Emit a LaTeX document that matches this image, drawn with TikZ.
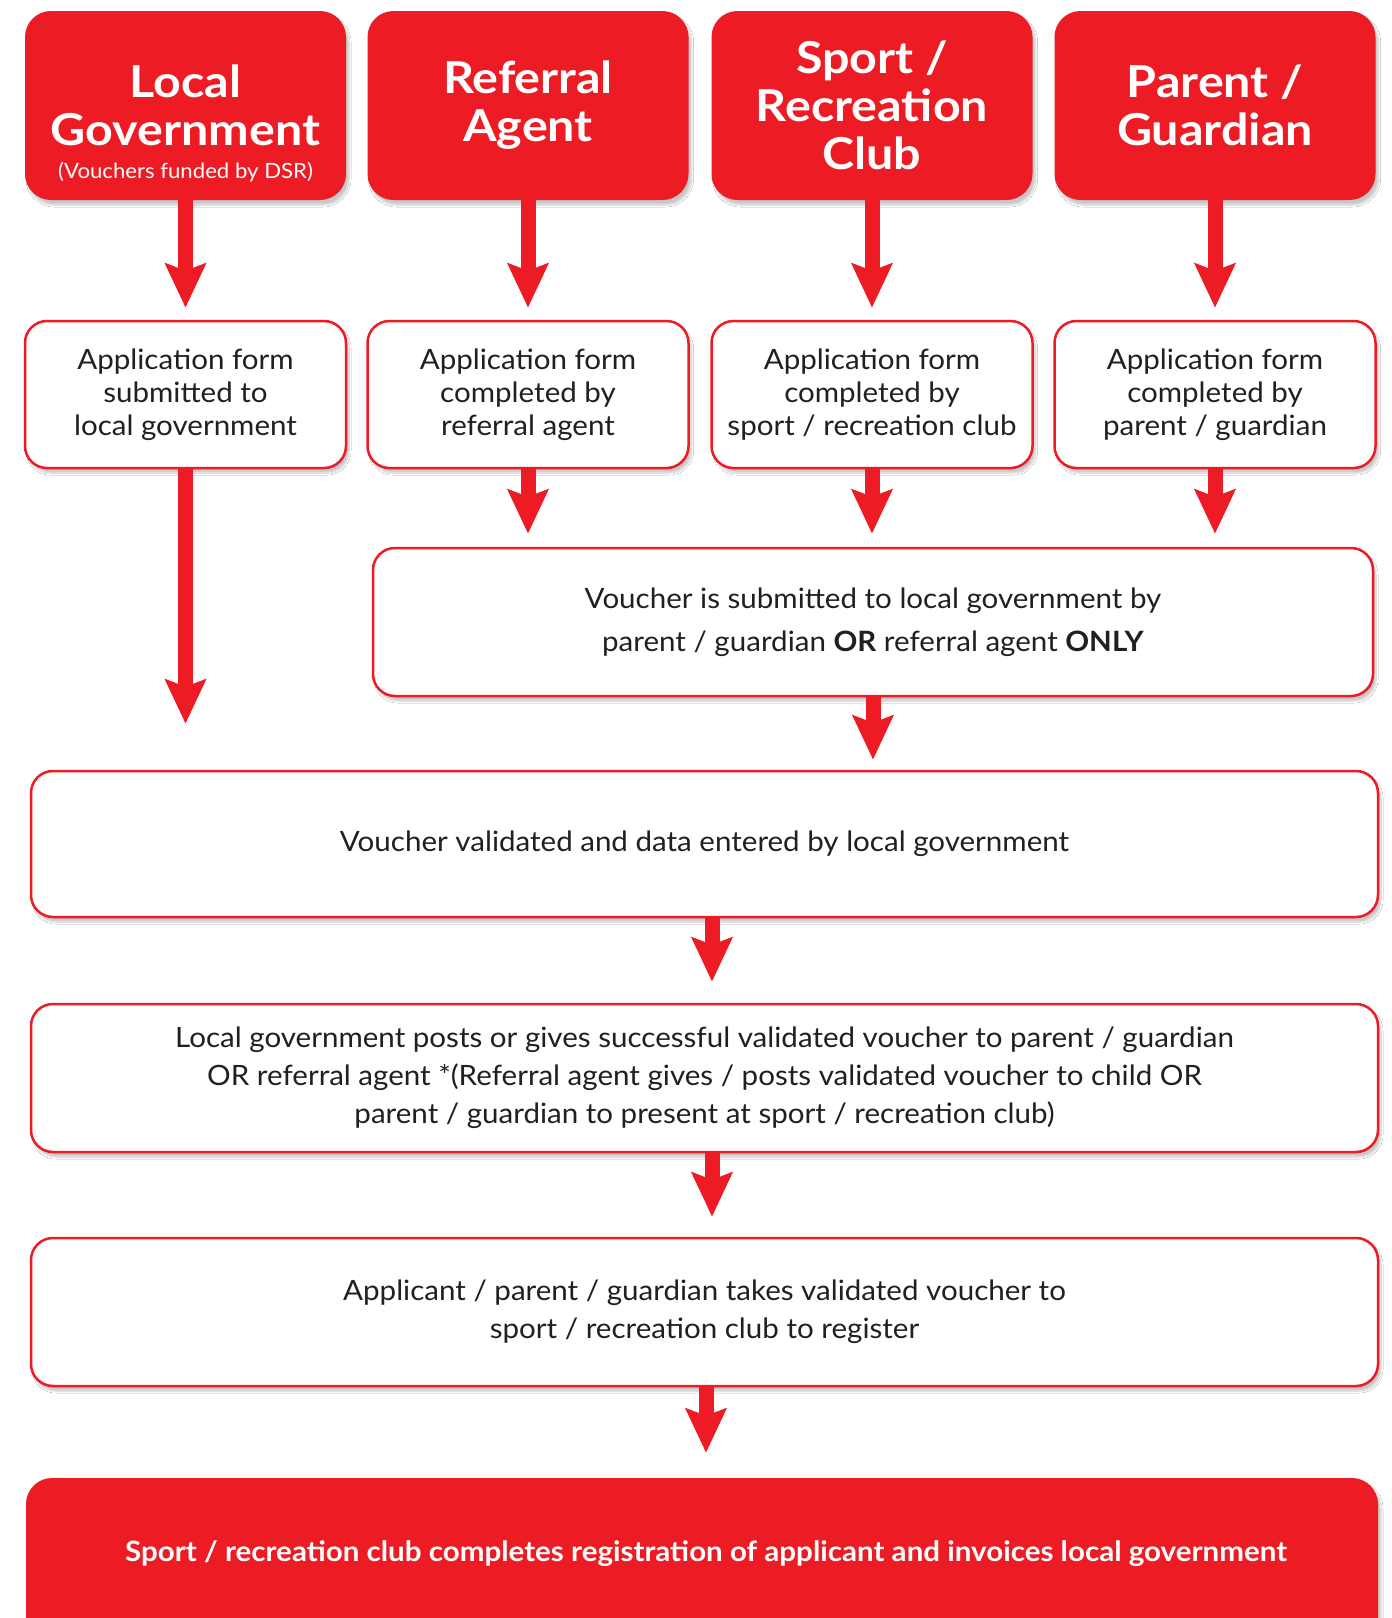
\documentclass[tikz,border=0pt]{standalone}
\usepackage{fontspec}
\setmainfont{Lato}[FakeStretch=1.055]
\newfontfamily\titlefont{Lato}[FakeStretch=1.1]
\usetikzlibrary{arrows.meta,shadows.blur,calc}
\definecolor{dsrred}{HTML}{ED1C24}
\definecolor{txt}{HTML}{231F20}
\begin{document}
\begin{tikzpicture}[x=1pt,y=-1pt,
  shad/.style={blur shadow={shadow xshift=3pt,shadow yshift=-5pt,shadow blur steps=10,shadow opacity=22}},
  head/.style={shad, fill=dsrred, rounded corners=26pt, minimum width=321pt, minimum height=189pt, inner sep=0pt, text=white, align=center, font=\titlefont\bfseries\fontsize{44}{48}\selectfont},
  form/.style={shad, draw=dsrred, fill=white, line width=2.5pt, rounded corners=22pt, minimum width=321pt, minimum height=147pt, inner sep=0pt, text=txt, align=center, font=\fontsize{28}{33}\selectfont},
  wide/.style={form, minimum width=1347pt, minimum height=146pt, font=\fontsize{28}{38}\selectfont},
  final/.style={shad, fill=dsrred, rounded corners=26pt, minimum width=1352pt, minimum height=170pt, inner sep=0pt},
  subtxt/.style={text=white, inner sep=0pt, font=\fontsize{21}{24}\selectfont},
  flow/.style={draw=dsrred, line width=15pt, -{Stealth[length=44pt,width=40pt,inset=7pt]}}
]
\useasboundingbox (0,0) rectangle (1392,1618);
\clip (0,0) rectangle (1392,1618);
\fill[white] (0,0) rectangle (1392,1618);

% top row
\node[head] (lg) at (185.5,105.5) {Local\\Government};
\node[subtxt] (lgsub) at (185.5,172) {(Vouchers funded by DSR)};
\node[head] (ra) at (528,105.5) {Referral\\Agent};
\node[head] (sc) at (872,105.5) {Sport /\\Recreation\\Club};
\node[head] (pg) at (1215,105.5) {Parent /\\Guardian};

% second row
\node[form] (lg2) at (185.5,394.5) {Application form\\submitted to\\local government};
\node[form] (ra2) at (528,394.5) {Application form\\completed by\\referral agent};
\node[form] (sc2) at (872,394.5) {Application form\\completed by\\sport / recreation club};
\node[form] (pg2) at (1215,394.5) {Application form\\completed by\\parent / guardian};

% voucher submitted
\node[form, minimum width=1000pt, minimum height=148pt, font=\fontsize{28}{43}\selectfont] (vb) at (873,622)
  {Voucher is submitted to local government by\\parent / guardian \textbf{OR} referral agent \textbf{ONLY}};

% wide boxes
\node[wide] (val) at (704.5,844) {Voucher validated and data entered by local government};
\node[wide, minimum height=148pt] (b3) at (704.5,1078) {Local government posts or gives successful validated voucher to parent / guardian\\OR referral agent *(Referral agent gives / posts validated voucher to child OR\\parent / guardian to present at sport / recreation club)};
\node[wide, minimum height=148pt] (b4) at (704.5,1312) {Applicant / parent / guardian takes validated voucher to\\sport / recreation club to register};
\node[final] (fin) at (702,1563) {};
\node[text=white, inner sep=0pt, font=\bfseries\fontsize{28}{34}\selectfont] (fintxt) at (706,1554) {Sport / recreation club completes registration of applicant and invoices local government};

% connectors
\foreach \a/\b in {lg/lg2, ra/ra2, sc/sc2, pg/pg2}
  \draw[flow, shorten >=12pt] (\a.south) -- (\b.north);
\foreach \a in {ra2, sc2, pg2}
  \draw[flow, shorten >=13pt] (\a.south) -- (\a.south |- vb.north);
\draw[flow, shorten >=46pt] (lg2.south) -- (lg2.south |- val.north);
\draw[flow, shorten >=10pt] (vb.south) -- (vb.south |- val.north);
\coordinate (v1) at ($(val.south)+(7.5,0)$);
\draw[flow, shorten >=21pt] (v1) -- (v1 |- b3.north);
\coordinate (v2) at ($(b3.south)+(7.5,0)$);
\draw[flow, shorten >=20pt] (v2) -- (v2 |- b4.north);
\coordinate (v3) at ($(b4.south)+(1.5,0)$);
\draw[flow, shorten >=25pt] (v3) -- (v3 |- fin.north);
\end{tikzpicture}
\end{document}
